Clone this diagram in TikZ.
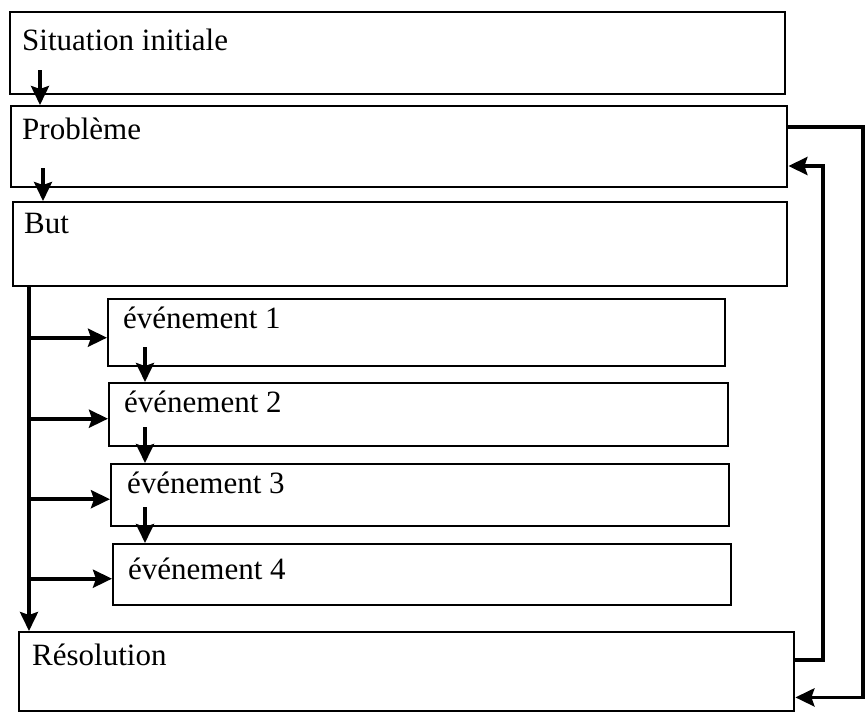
\documentclass[tikz,border=0pt]{standalone}
\usepackage{fontspec}
\setmainfont{Liberation Serif}
\usetikzlibrary{arrows.meta}
\begin{document}
\begin{tikzpicture}[x=1pt,y=-1pt,
  box/.style={draw=black,line width=2.4pt,rectangle,inner sep=0pt,anchor=north west},
  lbl/.style={anchor=base west,inner sep=0pt,font=\fontsize{31}{36}\selectfont},
  arr/.style={draw=black,line width=3.6pt,-{Stealth[length=19pt,width=18pt,inset=3pt]}}]
\useasboundingbox (0,0) rectangle (867,715);
% boxes
\node[box,minimum width=775pt,minimum height=82pt] (s1) at (9,11) {};
\node[box,minimum width=776pt,minimum height=81pt] (s2) at (10,105) {};
\node[box,minimum width=774pt,minimum height=84pt] (s3) at (12,201) {};
\node[box,minimum width=617pt,minimum height=67pt] (e1) at (107,298) {};
\node[box,minimum width=619pt,minimum height=63pt] (e2) at (108,382) {};
\node[box,minimum width=618pt,minimum height=62pt] (e3) at (110,463) {};
\node[box,minimum width=618pt,minimum height=61pt] (e4) at (112,543) {};
\node[box,minimum width=775pt,minimum height=79pt] (s7) at (18,631) {};
% texts
\node[lbl] (t1) at (22,50) {Situation initiale};
\node[lbl] (t2) at (22,139) {Problème};
\node[lbl] (t3) at (24,233) {But};
\node[lbl] (te1) at (123,328) {événement 1};
\node[lbl] (te2) at (124,412) {événement 2};
\node[lbl] (te3) at (127,493) {événement 3};
\node[lbl] (te4) at (128,579) {événement 4};
\node[lbl] (t7) at (32,665) {Résolution};
% top chain
\draw[arr] ([xshift=31pt,yshift=25pt]s1.south west) -- ([xshift=31pt]s1.south west |- s2.north);
\draw[arr] ([xshift=33pt,yshift=20pt]s2.south west) -- ([xshift=33pt]s2.south west |- s3.north);
% trunk
\coordinate (tk) at (29,0);
\draw[arr] (tk |- s3.south) -- (tk |- s7.north);
\draw[arr] ([yshift=-5pt]tk |- e1.west) -- ([yshift=-5pt]e1.west);
\draw[arr] ([yshift=-4pt]tk |- e2.west) -- ([yshift=-4pt]e2.west);
\draw[arr] ([yshift=-4pt]tk |- e3.west) -- ([yshift=-4pt]e3.west);
\draw[arr] ([yshift=-4pt]tk |- e4.west) -- ([yshift=-4pt]e4.west);
% event chain
\coordinate (ek) at (145,0);
\draw[arr] ([yshift=20pt]ek |- e1.south) -- (ek |- e2.north);
\draw[arr] ([yshift=20pt]ek |- e2.south) -- (ek |- e3.north);
\draw[arr] ([yshift=20pt]ek |- e3.south) -- (ek |- e4.north);
% right loops
\coordinate (outer) at (863,0);
\coordinate (inner) at (823,0);
\draw[arr] ([yshift=-22pt]s2.north east) -- ([yshift=-22pt]outer |- s2.north) -- ([yshift=15pt]outer |- s7.south) -- ([yshift=15pt]s7.south east);
\draw[arr] ([yshift=-29pt]s7.north east) -- ([yshift=-29pt]inner |- s7.north) -- ([yshift=-61pt]inner |- s2.north) -- ([yshift=-61pt]s2.north east);
\end{tikzpicture}
\end{document}
